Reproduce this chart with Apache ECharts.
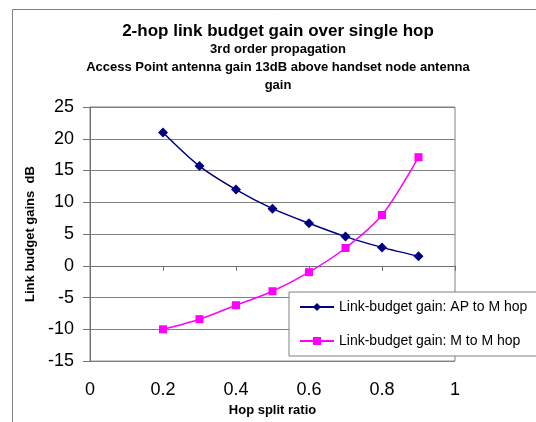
<!DOCTYPE html>
<html>
<head>
<meta charset="utf-8">
<script src="https://cdn.jsdelivr.net/npm/echarts@6/dist/echarts.min.js"></script>
<style>html,body{margin:0;padding:0;background:#fff;}#c{width:536px;height:422px;}</style>
</head>
<body>
<div id="c"></div>
<script>
const hopRatio = [0.2, 0.3, 0.4, 0.5, 0.6, 0.7, 0.8, 0.9];
const apToM = [21.0, 15.7, 12.0, 9.0, 6.7, 4.6, 2.9, 1.5];
const mToM = [-10.0, -8.4, -6.2, -4.0, -1.0, 2.8, 8.0, 17.1];
const seriesNames = ['Link-budget gain: AP to M hop', 'Link-budget gain: M to M hop'];
const titleText = '2-hop link budget gain over single hop';
const subText = '3rd order propagation\nAccess Point antenna gain 13dB above handset node antenna\ngain';

const font = '"Liberation Sans", Arial, sans-serif';
const chart = echarts.init(document.getElementById('c'), null, {renderer: 'canvas'});
const pair = (xs, ys) => xs.map((x, i) => [x, ys[i]]);
chart.setOption({
  backgroundColor: '#fff',
  animation: false,
  graphic: [
    {type: 'line', shape: {x1: 12.5, y1: 9.5, x2: 536, y2: 9.5}, style: {stroke: '#808080', lineWidth: 1}},
    {type: 'line', shape: {x1: 12.5, y1: 9.5, x2: 12.5, y2: 422}, style: {stroke: '#808080', lineWidth: 1}}
  ],
  title: {
    text: titleText,
    subtext: subText,
    left: 273, top: 18, textAlign: 'center',
    itemGap: 0,
    textStyle: {fontFamily: font, fontSize: 17, fontWeight: 'bold', color: '#000'},
    subtextStyle: {fontFamily: font, fontSize: 13, fontWeight: 'bold', color: '#000', lineHeight: 18, align: 'center'}
  },
  legend: {
    orient: 'vertical',
    left: 289, top: 292,
    padding: [8, 12, 8, 10],
    itemGap: 20,
    itemWidth: 34, itemHeight: 10,
    backgroundColor: '#fff',
    borderColor: '#808080', borderWidth: 1,
    textStyle: {fontFamily: font, fontSize: 14, color: '#000'},
    data: seriesNames
  },
  grid: {left: 90, right: 81, top: 107, bottom: 60, show: true, borderColor: '#808080', borderWidth: 1, backgroundColor: 'transparent'},
  xAxis: {
    type: 'value', min: 0, max: 1, interval: 0.2,
    name: 'Hop split ratio', nameLocation: 'middle', nameGap: 40,
    nameTextStyle: {fontFamily: font, fontSize: 13, fontWeight: 'bold', color: '#000'},
    axisLine: {show: true, lineStyle: {color: '#707070'}},
    axisTick: {show: true, length: 5, lineStyle: {color: '#707070'}},
    axisLabel: {fontFamily: font, fontSize: 18, color: '#000', margin: 20},
    splitLine: {show: false}
  },
  yAxis: {
    type: 'value', min: -15, max: 25, interval: 5,
    name: 'Link budget gains  dB', nameLocation: 'middle', nameGap: 52,
    nameTextStyle: {fontFamily: font, fontSize: 13, fontWeight: 'bold', color: '#000'},
    axisLine: {show: true, lineStyle: {color: '#707070'}},
    axisTick: {show: true, length: 7, lineStyle: {color: '#707070'}},
    axisLabel: {fontFamily: font, fontSize: 18, color: '#000', margin: 16},
    splitLine: {show: true, lineStyle: {color: '#808080', width: 1}}
  },
  series: [
    {
      name: seriesNames[0], type: 'line', data: pair(hopRatio, apToM), smooth: 0.3,
      symbol: 'diamond', symbolSize: 10,
      lineStyle: {color: '#000080', width: 1.5}, itemStyle: {color: '#000080'}
    },
    {
      name: seriesNames[1], type: 'line', data: pair(hopRatio, mToM), smooth: 0.3,
      symbol: 'rect', symbolSize: 8,
      lineStyle: {color: '#FF00FF', width: 1.5}, itemStyle: {color: '#FF00FF'}
    }
  ]
});
</script>
</body>
</html>
